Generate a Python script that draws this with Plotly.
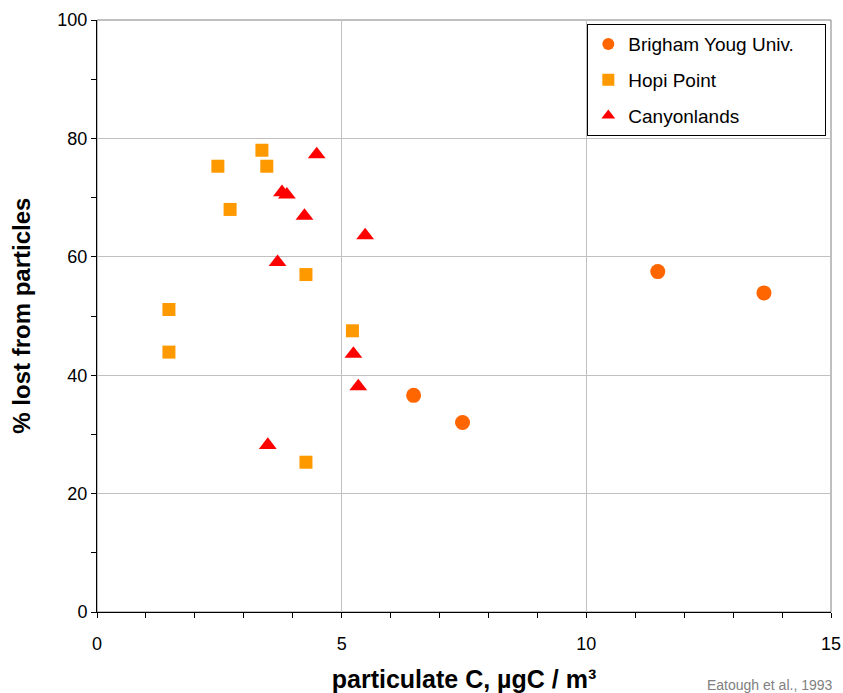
import plotly.graph_objects as go

# Brigham Young Univ.
byu_x = [6.47, 7.47, 11.46, 13.63]
byu_y = [36.6, 32.0, 57.5, 53.9]
# Hopi Point
hopi_x = [2.47, 3.37, 3.47, 2.72, 4.27, 1.47, 1.47, 5.22, 4.27]
hopi_y = [75.3, 78.0, 75.3, 68.0, 57.0, 51.1, 43.9, 47.5, 25.3]
# Canyonlands
cany_x = [4.49, 3.78, 3.88, 4.24, 5.48, 3.69, 5.24, 5.34, 3.49]
cany_y = [77.3, 70.9, 70.5, 66.9, 63.6, 59.1, 43.6, 38.1, 28.2]

FONT = "Arial, Liberation Sans, sans-serif"
NB = "\u00a0"

fig = go.Figure()
fig.add_trace(go.Scatter(x=byu_x, y=byu_y, mode="markers", name="Brigham Youg Univ." + NB * 5,
                         legendgroup="a",
                         marker=dict(symbol="circle", size=15, color="#ff6600")))
fig.add_trace(go.Scatter(x=hopi_x, y=hopi_y, mode="markers", name="Hopi Point",
                         legendgroup="b",
                         marker=dict(symbol="square", size=13, color="#ff9900")))
fig.add_trace(go.Scatter(x=cany_x, y=cany_y, mode="markers", name="Canyonlands",
                         legendgroup="c",
                         marker=dict(symbol="triangle-up", size=15.5, color="#ff0000")))

fig.add_shape(type="rect", xref="paper", yref="paper", x0=0, y0=0, x1=1, y1=1,
              line=dict(color="#808080", width=1), layer="below")

fig.update_layout(
    width=843, height=693,
    margin=dict(l=97, r=12, t=20, b=81, autoexpand=False),
    paper_bgcolor="white", plot_bgcolor="white",
    font=dict(family=FONT, size=18, color="black"),
    showlegend=True,
    legend=dict(x=0.668, y=0.993, xanchor="left", yanchor="top",
                bordercolor="black", borderwidth=1, bgcolor="white",
                font=dict(size=19), traceorder="grouped", tracegroupgap=8,
                itemsizing="constant"),
    xaxis=dict(range=[0, 15], dtick=5, showgrid=True, gridcolor="#c0c0c0",
               showline=True, linecolor="black", linewidth=1,
               ticks="outside", ticklen=5, tickcolor="black",
               minor=dict(dtick=1, ticks="outside", ticklen=5, tickcolor="black", showgrid=False),
               zeroline=False, tickfont=dict(size=18), automargin=False,
               ticklabelstandoff=10,
               title=dict(text="<b>particulate C, µgC / m³</b>", font=dict(size=25), standoff=20)),
    yaxis=dict(range=[0, 100], dtick=20, showgrid=True, gridcolor="#c0c0c0",
               showline=True, linecolor="black", linewidth=1,
               ticks="outside", ticklen=5, tickcolor="black",
               minor=dict(dtick=10, ticks="outside", ticklen=5, tickcolor="black", showgrid=False),
               zeroline=False, tickfont=dict(size=18), automargin=False),
    annotations=[
        dict(text="<b>% lost from particles</b>", xref="paper", yref="paper",
             x=-0.104, y=0.5, xanchor="center", yanchor="middle", textangle=-90,
             showarrow=False, font=dict(size=24, color="black")),
        dict(text="Eatough et al., 1993", xref="paper", yref="paper",
             x=1.005, y=0, yshift=-73, xanchor="right", yanchor="middle",
             showarrow=False, font=dict(size=14, color="#808080")),
    ],
)

fig.write_html("out.html", config={"displayModeBar": False},
               post_script="document.body.style.margin='0';")
